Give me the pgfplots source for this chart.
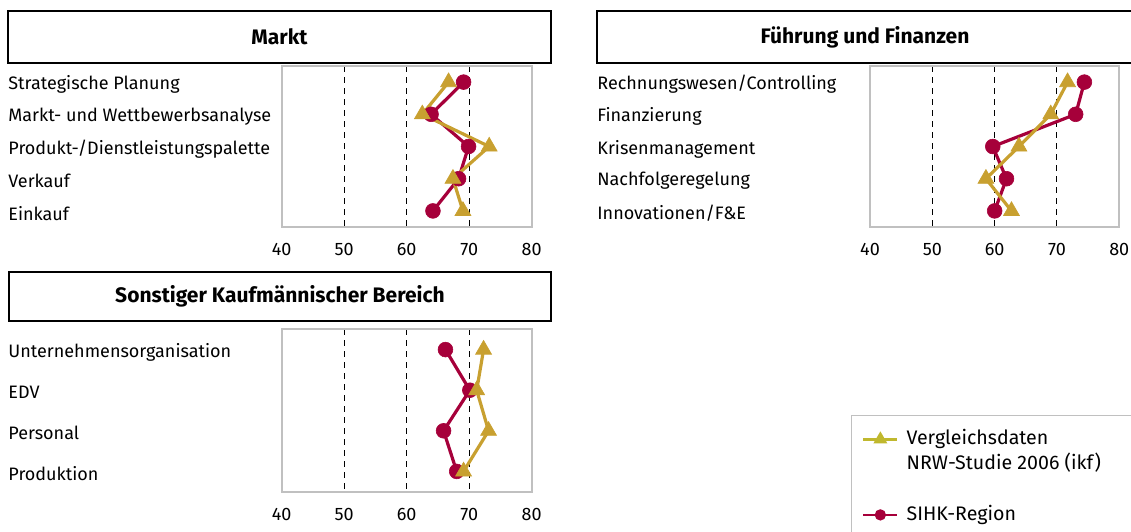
\documentclass[border=0pt]{standalone}
\usepackage{fontspec}
\setmainfont{Fira Sans}
\usepackage{pgfplots}
\pgfplotsset{compat=1.18}
\definecolor{crim}{HTML}{A6003A}
\definecolor{gold}{HTML}{C8A030}
\definecolor{lgold}{HTML}{C0B82E}
\definecolor{framec}{HTML}{C0C0C0}
\newcommand{\lblfont}{\fontsize{9}{10}\selectfont}
\pgfplotsset{
  panel/.style={
    scale only axis, xmin=40, xmax=80, y dir=reverse,
    axis line style={framec, line width=1pt},
    xtick={50,60,70}, extra x ticks={40,80}, extra x tick style={grid=none},
    xmajorgrids, grid style={black, line width=0.5pt, dash pattern=on 3pt off 2.5pt},
    major tick length=0pt,
    tick label style={font=\lblfont, text=black},
    /pgf/number format/assume math mode=true,
    xticklabel style={anchor=north, inner sep=0pt, yshift=-8pt},
    yticklabel style={anchor=west, inner sep=0pt, yshift=-1.2pt},
  },
  sihk/.style={crim, line width=1.6pt, mark=*, mark size=3.7pt, mark options={solid, fill=crim, draw=crim, line width=0.3pt}},
  nrw/.style={gold, line width=1.6pt, mark=triangle*, mark size=4.6pt, mark options={solid, fill=gold, draw=gold, line width=0.3pt}},
}
\begin{document}
\begin{tikzpicture}
\useasboundingbox (0,0) rectangle (565.5pt,-265.5pt);
% title boxes
\draw[line width=0.6pt] (4pt,-5.5pt) rectangle (275.5pt,-31.5pt);
\node[font=\fontsize{10.5}{12}\selectfont\bfseries] at (139.75pt,-18.5pt) {Markt};
\draw[line width=0.6pt] (298.5pt,-5.5pt) rectangle (566pt,-31.5pt);
\node[font=\fontsize{10.5}{12}\selectfont\bfseries] at (432.5pt,-18.5pt) {Führung und Finanzen};
\draw[line width=0.6pt] (4.5pt,-136pt) rectangle (275.5pt,-160.5pt);
\node[font=\fontsize{10.5}{12}\selectfont\bfseries] at (140pt,-148.25pt) {Sonstiger Kaufmännischer Bereich};

% Panel 1
\begin{axis}[panel, at={(140.85pt,-113.5pt)}, anchor=south west,
  width=125pt, height=80.5pt, ymin=0.5, ymax=5.5,
  ytick={1,2,3,4,5},
  yticklabels={Strategische Planung, Markt- und Wettbewerbsanalyse, Produkt-/Dienstleistungspalette, Verkauf, Einkauf},
  yticklabel style={xshift=-136.85pt}]
\addplot[sihk] coordinates {(69.1,1) (63.9,2) (69.9,3) (68.3,4) (64.2,5)};
\addplot[nrw] coordinates {(66.7,1) (62.5,2) (73.2,3) (67.4,4) (69.0,5)};
\end{axis}

% Panel 2
\begin{axis}[panel, at={(435pt,-113.5pt)}, anchor=south west,
  width=124.65pt, height=80.5pt, ymin=0.5, ymax=5.5,
  ytick={1,2,3,4,5},
  yticklabels={Rechnungswesen/Controlling, Finanzierung, Krisenmanagement, Nachfolgeregelung, Innovationen/F\&E},
  yticklabel style={xshift=-136.5pt}]
\addplot[sihk] coordinates {(74.4,1) (73.0,2) (59.7,3) (61.9,4) (60.0,5)};
\addplot[nrw] coordinates {(71.7,1) (69.0,2) (63.9,3) (58.6,4) (62.7,5)};
\end{axis}

% Panel 3
\begin{axis}[panel, at={(140.85pt,-245.85pt)}, anchor=south west,
  width=125pt, height=81.2pt, ymin=0.5, ymax=4.5,
  ytick={1,2,3,4},
  yticklabels={Unternehmensorganisation, EDV, Personal, Produktion},
  yticklabel style={xshift=-136.85pt},
  legend style={at={(2.28,0.468)}, anchor=north west, draw=none, fill=none,
    font=\fontsize{9.8}{11}\selectfont, inner xsep=5pt, inner ysep=6.8pt, row sep=3pt, column sep=4pt,
    nodes={inner sep=0pt, text height=7.4pt, text depth=2.2pt}},
  legend cell align=left]
\addlegendimage{lgold, line width=1.2pt, mark=triangle*, mark size=2.8pt, mark options={solid, fill=lgold}}
\addlegendentry{Vergleichsdaten}
\addlegendimage{empty legend}
\addlegendentry{NRW-Studie 2006 (ikf)}
\addlegendimage{empty legend}
\addlegendentry{}
\addlegendimage{crim, line width=1.2pt, mark=*, mark size=2.2pt, mark options={solid, fill=crim}}
\addlegendentry{SIHK-Region}
\addplot[sihk, forget plot] coordinates {(66.2,1) (70.1,2) (65.9,3) (68.0,4)};
\addplot[nrw, forget plot] coordinates {(72.3,1) (71.2,2) (73.1,3) (69.1,4)};
\end{axis}
\draw[framec, line width=0.6pt] (425.85pt,-267pt) |- (567pt,-207.85pt);
\end{tikzpicture}
\end{document}
